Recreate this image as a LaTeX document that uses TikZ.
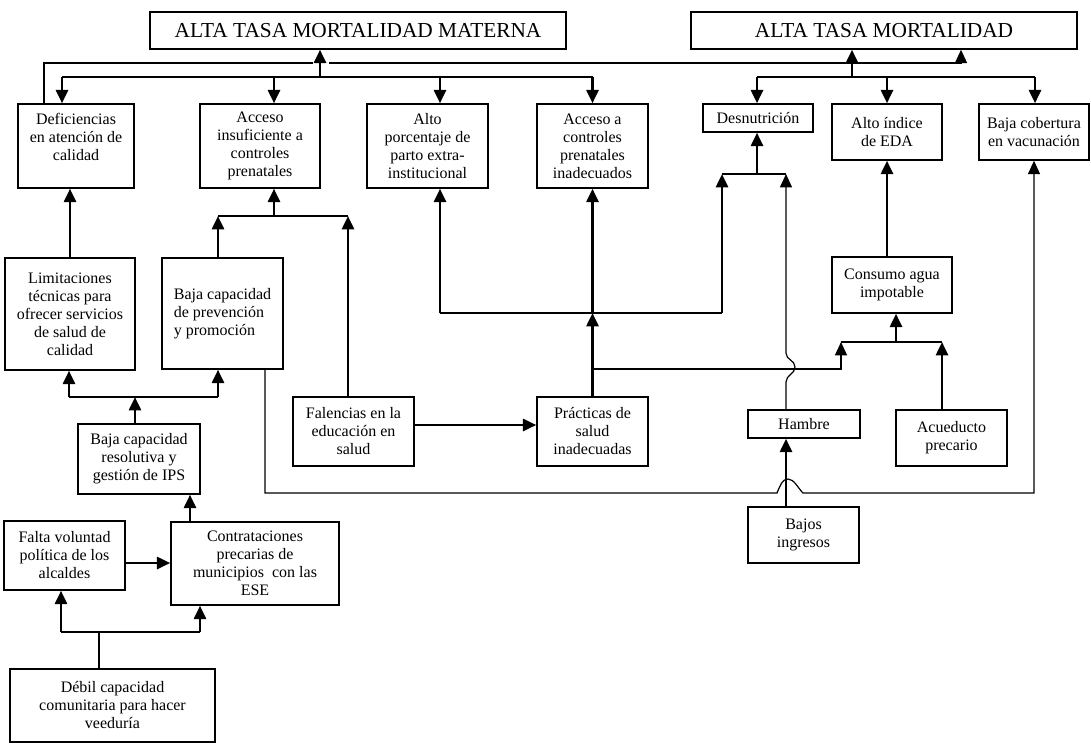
\documentclass[tikz,border=0pt]{standalone}
\usepackage{fontspec}
\setmainfont{Liberation Serif}
\usetikzlibrary{arrows.meta,calc}
\newcommand{\boxfont}{\fontsize{12}{13.5}\selectfont}
\newcommand{\titlefont}{\fontsize{16}{18}\selectfont}

\begin{document}
\begin{tikzpicture}[x=0.75pt, y=-0.75pt, every node/.style={font=\boxfont},
    sz/.style 2 args={minimum width=#1*0.75pt, minimum height=#2*0.75pt},
    cause/.style={draw, line width=1.1pt, align=center, inner sep=2pt},
    effect/.style={draw, line width=1.1pt, font=\titlefont, inner sep=2pt},
    arr/.style={line width=2pt, -{Triangle[length=10pt,width=9pt]}},
    thinarr/.style={line width=0.9pt, -{Triangle[length=10pt,width=9pt]}},
    joinline/.style={line width=1.3pt},
    plainline/.style={line width=0.9pt}]
    \useasboundingbox (0,0) rectangle (1091,743);

    % efectos
    \node[effect, sz={416}{37}] (mortmat) at (358,30.5) {ALTA TASA MORTALIDAD MATERNA};
    \node[effect, sz={386}{37}] (mortal) at (884,30.5) {ALTA TASA MORTALIDAD};

    % causas directas
    \node[cause, sz={116}{84}] (deficien) at (76,146) {Deficiencias\\en atención de\\calidad\\\mbox{}};
    \node[cause, sz={120}{84}] (accinsuf) at (260,146) {Acceso\\insuficiente a\\controles\\prenatales};
    \node[cause, sz={121}{84}] (partoext) at (427.5,146) {Alto\\porcentaje de\\parto extra-\\institucional};
    \node[cause, sz={111}{84}] (ctrlinad) at (592.5,146) {Acceso a\\controles\\prenatales\\inadecuados};
    \node[cause, sz={110}{28}] (desnut) at (758,118) {Desnutrición};
    \node[cause, sz={110}{56}] (eda) at (887,132) {Alto índice\\de EDA};
    \node[cause, sz={110}{56}] (vacuna) at (1034,132) {Baja cobertura\\en vacunación};

    % causas indirectas
    \node[cause, sz={130}{112}] (limtec) at (70,314) {Limitaciones\\técnicas para\\ofrecer servicios\\de salud de\\calidad};
    \node[cause, align=left, sz={121}{111}] (prevprom) at (222.5,313.5) {Baja capacidad\\de prevención\\y promoción};
    \node[cause, sz={120}{56}] (agua) at (892,285) {Consumo agua\\impotable};
    \node[cause, sz={122}{70}] (ips) at (139,459) {Baja capacidad\\resolutiva y\\gestión de IPS};
    \node[cause, sz={121}{69}] (falencia) at (353.5,431.5) {Falencias en la\\educación en\\salud};
    \node[cause, sz={111}{69}] (practica) at (592.5,431.5) {Prácticas de\\salud\\inadecuadas};
    \node[cause, sz={112}{28}] (hambre) at (804,424) {Hambre};
    \node[cause, sz={111}{56}] (acued) at (951.5,438) {Acueducto\\precario};
    \node[cause, sz={111}{56}] (ingreso) at (803.5,535) {Bajos\\ingresos};
    \node[cause, sz={121}{69}] (voluntad) at (64.5,555.5) {Falta voluntad\\política de los\\alcaldes};
    \node[cause, sz={168}{83}] (contrata) at (255,563.5) {Contrataciones\\precarias de\\municipios\ \ con las\\ESE};
    \node[cause, sz={205}{73}] (veeduria) at (112.5,705.5) {Débil capacidad\\comunitaria para hacer\\veeduría};

    % puntos de union
    \coordinate (up1) at (44,63);
    \coordinate (up2) at (313,63);
    \coordinate (up3) at (329,63);
    \coordinate (up4) at (961,63);
    \coordinate (mm) at (320,77);
    \coordinate (mt) at (852,77);
    \coordinate (b1) at (62,77);
    \coordinate (b2) at (274,77);
    \coordinate (b3) at (440,77);
    \coordinate (b4) at (592.5,77);
    \coordinate (b5) at (757,77);
    \coordinate (b6) at (887,77);
    \coordinate (b7) at (1035,77);
    \coordinate (j2) at (218,216);
    \coordinate (j3) at (348,216);
    \coordinate (j4) at (274,216);
    \coordinate (p1) at (592.5,313);
    \coordinate (q1) at (440,313);
    \coordinate (q2) at (722,313);
    \coordinate (r1) at (722,174);
    \coordinate (r2) at (786,174);
    \coordinate (r3) at (757,174);
    \coordinate (s1) at (592.5,369);
    \coordinate (s2) at (841,342);
    \coordinate (s3) at (942,342);
    \coordinate (s4) at (896,342);
    \coordinate (t1) at (265,493);
    \coordinate (t2) at (1034,493);
    \coordinate (u1) at (69,397);
    \coordinate (u2) at (218,397);
    \coordinate (u3) at (135,397);
    \coordinate (v1) at (190,494);
    \coordinate (g1) at (414,425);
    \coordinate (w0) at (125,563);
    \coordinate (w1) at (61,632);
    \coordinate (w2) at (200,632);
    \coordinate (w3) at (99,632);

    % hacia los efectos
    \draw[plainline] (deficien.north -| up1) -- (up1) -- (up2);
    \draw[joinline] (up3) -- (up4);
    \draw[thinarr] (up4) -- (up4 |- mortal.south);
    \draw[joinline] (b1) -- (b4);
    \draw[joinline] (b5) -- (b7);
    \foreach \c/\n in {b1/deficien, b2/accinsuf, b3/partoext, b4/ctrlinad, b5/desnut, b6/eda, b7/vacuna}
        \draw[arr] (\c) -- (\c |- \n.north);
    \draw[arr] (mm) -- (mm |- mortmat.south);
    \draw[arr] (mt) -- (mt |- mortal.south);

    % lado izquierdo
    \draw[arr] (limtec.north) -- (limtec.north |- deficien.south);
    \draw[arr] (j2 |- prevprom.north) -- (j2);
    \draw[arr] (j3 |- falencia.north) -- (j3);
    \draw[joinline] (j2) -- (j3);
    \draw[arr] (j4) -- (j4 |- accinsuf.south);
    \draw[joinline] (u1) -- (u2);
    \draw[arr] (u1) -- (u1 |- limtec.south);
    \draw[arr] (u2) -- (u2 |- prevprom.south);
    \draw[arr] (u3 |- ips.north) -- (u3);
    \draw[arr] (v1 |- contrata.north) -- (v1 |- ips.south);
    \draw[arr] (w0) -- (w0 -| contrata.west);
    \draw[plainline] (w3 |- veeduria.north) -- (w3);
    \draw[joinline] (w1) -- (w2);
    \draw[arr] (w1) -- (w1 |- voluntad.south);
    \draw[arr] (w2) -- (w2 |- contrata.south);

    % centro
    \draw[arr] (g1) -- (g1 -| practica.west);
    \draw[arr] (practica.north) -- (p1);
    \draw[arr] (p1) -- (p1 |- ctrlinad.south);
    \draw[joinline] (q1) -- (q2);
    \draw[arr] (q1) -- (q1 |- partoext.south);
    \draw[arr] (q2) -- (r1);
    \draw[joinline] (r1) -- (r2);
    \draw[arr] (r3) -- (r3 |- desnut.south);
    \draw[thinarr] (hambre.north -| r2) -- (786,382)
        .. controls (786,375) and (795,374) .. (795,367)
        .. controls (795,360) and (786,360) .. (786,353) -- (r2);
    \draw[thinarr] (s1) -| (s2);
    \draw[joinline] (s2) -- (s3);
    \draw[arr] (s4) -- (s4 |- agua.south);
    \draw[arr] (s3 |- acued.north) -- (s3);
    \draw[arr] (agua.north -| eda.south) -- (eda.south);
    \draw[arr] (ingreso.north -| r2) -- (hambre.south -| r2);
    \draw[thinarr] (t1 |- prevprom.south) -- (t1) -- (777,493)
        .. controls (780,486) and (782,479) .. (788,479)
        .. controls (794,479) and (798,488) .. (803,493) -- (t2) -- (t2 |- vacuna.south);
\end{tikzpicture}
\end{document}
